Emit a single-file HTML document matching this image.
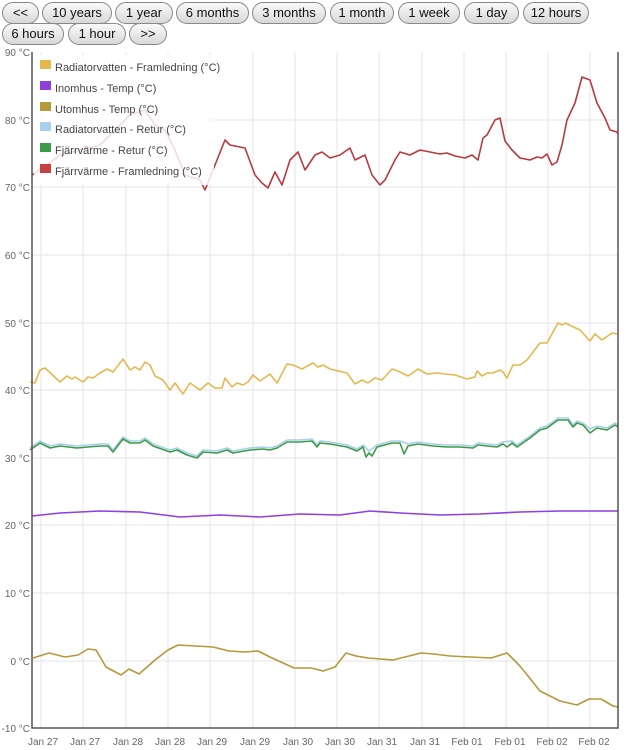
<!DOCTYPE html>
<html><head><meta charset="utf-8"><style>
body{margin:0;background:#fff;width:638px;height:750px;overflow:hidden;font-family:"Liberation Sans",sans-serif}
.b{position:absolute;height:20px;border:1px solid #888;border-radius:11px;background:linear-gradient(#fafafa,#d8d8d8);font-size:13px;line-height:20px;text-align:center;color:#111;box-sizing:content-box}
svg{position:absolute;left:0;top:0}
</style></head><body>
<div class="b" style="left:2px;top:2px;width:35px">&lt;&lt;</div>
<div class="b" style="left:42px;top:2px;width:68px">10 years</div>
<div class="b" style="left:115px;top:2px;width:56px">1 year</div>
<div class="b" style="left:176px;top:2px;width:71px">6 months</div>
<div class="b" style="left:252px;top:2px;width:72px">3 months</div>
<div class="b" style="left:330px;top:2px;width:62px">1 month</div>
<div class="b" style="left:398px;top:2px;width:60px">1 week</div>
<div class="b" style="left:464px;top:2px;width:53px">1 day</div>
<div class="b" style="left:523px;top:2px;width:64px">12 hours</div>
<div class="b" style="left:2px;top:23px;width:60px">6 hours</div>
<div class="b" style="left:68px;top:23px;width:56px">1 hour</div>
<div class="b" style="left:129px;top:23px;width:36px">&gt;&gt;</div>
<svg width="638" height="750" font-family="Liberation Sans, sans-serif">
<g stroke="#e6e6e6" stroke-width="1">
<line x1="32" x2="618" y1="120" y2="120"/><line x1="32" x2="618" y1="187" y2="187"/><line x1="32" x2="618" y1="255" y2="255"/><line x1="32" x2="618" y1="323" y2="323"/><line x1="32" x2="618" y1="390" y2="390"/><line x1="32" x2="618" y1="458" y2="458"/><line x1="32" x2="618" y1="525" y2="525"/><line x1="32" x2="618" y1="593" y2="593"/><line x1="32" x2="618" y1="661" y2="661"/>
<line x1="41" x2="41" y1="52" y2="728"/><line x1="83" x2="83" y1="52" y2="728"/><line x1="126" x2="126" y1="52" y2="728"/><line x1="168" x2="168" y1="52" y2="728"/><line x1="210" x2="210" y1="52" y2="728"/><line x1="253" x2="253" y1="52" y2="728"/><line x1="295" x2="295" y1="52" y2="728"/><line x1="337" x2="337" y1="52" y2="728"/><line x1="379" x2="379" y1="52" y2="728"/><line x1="422" x2="422" y1="52" y2="728"/><line x1="464" x2="464" y1="52" y2="728"/><line x1="506" x2="506" y1="52" y2="728"/><line x1="548" x2="548" y1="52" y2="728"/><line x1="590" x2="590" y1="52" y2="728"/>
</g>
<g fill="none" stroke-width="1.6" stroke-linejoin="round">
<polyline stroke="#b83a3e" points="32,175 40,170 60,155 80,150 100,145 120,125 130,115 145,110 155,125 165,130 175,150 185,175 200,180 205,190 215,165 225,140 230,145 245,148 255,175 262,183 268,188 275,172 282,185 290,160 298,152 305,170 315,155 322,152 330,158 340,155 350,148 355,160 365,155 372,175 380,185 385,180 395,160 400,152 410,155 420,150 430,152 440,154 447,153 455,156 465,158 472,155 478,160 483,138 487,135 495,120 500,118 505,141 512,150 520,158 530,160 537,157 542,158 547,154 552,165 557,162 562,145 567,120 575,103 582,77 590,80 597,103 605,118 610,130 617,132 618,134"/>
<polyline stroke="#e3b94f" points="30,382 35,383 40,370 45,368 60,382 67,376 72,379 75,377 83,382 88,377 93,378 100,373 107,369 113,372 123,359 130,370 135,367 140,370 145,362 150,365 155,376 163,380 170,390 175,383 183,394 190,383 200,390 208,383 215,388 222,388 225,378 232,387 237,383 243,385 248,382 253,375 260,381 270,374 277,383 287,364 293,365 302,369 313,363 318,367 323,365 330,369 347,373 355,384 362,380 368,383 375,378 382,380 392,369 398,371 408,376 418,369 427,374 437,373 445,374 455,375 467,379 475,377 477,371 482,376 487,373 493,373 500,370 503,372 507,378 513,365 520,365 527,360 540,343 547,343 558,323 562,325 565,323 580,330 590,341 595,334 602,340 612,333 617,334"/>
<polyline stroke="#a7d0ee" points="30,448 40,441 50,446 60,444 77,446 88,445 100,444 108,444 113,450 123,437 130,441 140,441 145,438 153,444 170,450 177,448 187,453 197,456 203,450 217,451 227,448 233,451 250,448 263,447 270,448 277,446 287,440 300,440 312,439 317,445 320,441 330,442 347,445 357,449 363,445 369,451 377,445 392,441 400,441 408,444 418,442 433,444 447,445 460,445 473,446 478,443 497,445 503,442 512,441 517,445 530,436 540,428 547,426 558,418 568,418 573,425 577,421 583,423 590,429 597,426 607,428 615,423 618,425"/>
<polyline stroke="#3f9a48" points="30,450 40,443 50,448 60,446 77,448 88,447 100,446 108,446 113,452 123,439 130,443 140,443 145,440 153,446 170,452 177,450 187,455 197,458 203,452 217,453 227,450 233,453 250,450 263,449 270,450 277,448 287,442 300,442 312,441 317,447 320,443 330,444 347,447 357,451 363,447 366,457 369,453 372,456 377,447 392,443 400,443 404,454 408,446 418,444 433,446 447,447 460,447 473,448 478,445 497,447 503,444 507,447 512,443 517,447 530,438 540,430 547,428 558,420 568,420 573,427 577,423 583,425 590,433 597,428 607,430 615,425 618,427"/>
<polyline stroke="#8e3fe0" points="32,516 60,513 100,511 140,512 180,517 220,515 260,517 300,514 340,515 370,511 400,513 440,515 480,514 520,512 560,511 618,511"/>
<polyline stroke="#b5993a" points="33,658 49,653 65,657 78,655 88,649 96,650 106,667 121,675 129,669 139,674 155,660 168,650 178,645 213,647 229,651 245,652 258,651 270,657 294,668 311,668 323,671 335,667 346,653 356,656 368,658 393,660 421,653 434,654 450,656 491,658 507,653 519,665 528,676 540,691 560,701 577,705 589,699 601,699 613,706 618,707"/>
</g>
<rect x="34" y="55" width="180" height="130" fill="#fff" opacity="0.82"/>
<g font-size="11" fill="#444">
<rect x="40" y="60" width="11" height="9" fill="#e3b94f"/><text x="55" y="71">Radiatorvatten - Framledning (°C)</text>
<rect x="40" y="81" width="11" height="9" fill="#8e3fe0"/><text x="55" y="92">Inomhus - Temp (°C)</text>
<rect x="40" y="102" width="11" height="9" fill="#b5993a"/><text x="55" y="113">Utomhus - Temp (°C)</text>
<rect x="40" y="122" width="11" height="9" fill="#a7d0ee"/><text x="55" y="133">Radiatorvatten - Retur (°C)</text>
<rect x="40" y="143" width="11" height="9" fill="#3f9a48"/><text x="55" y="154">Fjärrvärme - Retur (°C)</text>
<rect x="40" y="164" width="11" height="9" fill="#c94040"/><text x="55" y="175">Fjärrvärme - Framledning (°C)</text>
</g>
<path d="M32,52 V728 H618 V52" fill="none" stroke="#555" stroke-width="1.5"/>
<g font-size="10" fill="#666" text-anchor="end">
<text x="30" y="56">90 °C</text><text x="30" y="124">80 °C</text><text x="30" y="191">70 °C</text><text x="30" y="259">60 °C</text><text x="30" y="327">50 °C</text><text x="30" y="394">40 °C</text><text x="30" y="462">30 °C</text><text x="30" y="529">20 °C</text><text x="30" y="597">10 °C</text><text x="30" y="665">0 °C</text><text x="30" y="732">-10 °C</text>
</g>
<g font-size="10" fill="#666" text-anchor="middle">
<text x="43" y="745">Jan 27</text><text x="85" y="745">Jan 27</text><text x="128" y="745">Jan 28</text><text x="170" y="745">Jan 28</text><text x="212" y="745">Jan 29</text><text x="255" y="745">Jan 29</text><text x="298" y="745">Jan 30</text><text x="340" y="745">Jan 30</text><text x="382" y="745">Jan 31</text><text x="425" y="745">Jan 31</text><text x="467" y="745">Feb 01</text><text x="510" y="745">Feb 01</text><text x="552" y="745">Feb 02</text><text x="594" y="745">Feb 02</text>
</g>
</svg>
</body></html>
